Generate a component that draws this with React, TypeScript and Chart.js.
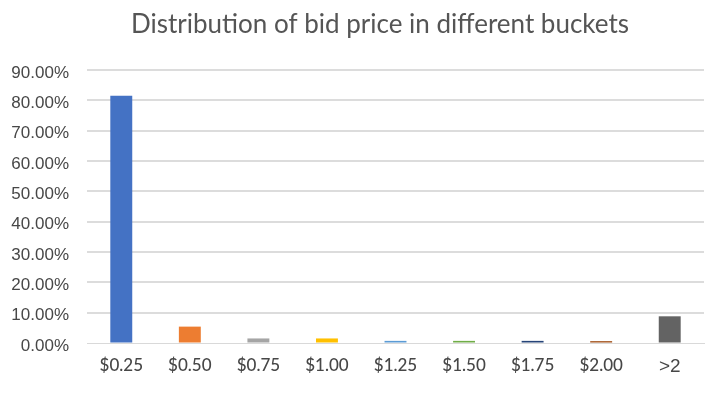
import React, { useEffect, useRef } from "react";
import { Chart, registerables } from "chart.js";

Chart.register(...registerables);

const categories = ["$0.25", "$0.50", "$0.75", "$1.00", "$1.25", "$1.50", "$1.75", "$2.00", ">2"];
const shares = [81.5, 5.4, 1.5, 1.5, 0.7, 0.7, 0.7, 0.6, 8.8];
const barColors = ["#4472C4", "#ED7D31", "#A5A5A5", "#FFC000", "#5B9BD5", "#70AD47", "#264478", "#9E480E", "#636363"];
const titleText = "Distribution of bid price in different buckets";

const titlePlugin = {
  id: "customTitle",
  afterDraw(chart: any) {
    const ctx = chart.ctx;
    ctx.save();
    ctx.font = "26px Lato";
    ctx.fillStyle = "#555555";
    ctx.textAlign = "center";
    ctx.textBaseline = "alphabetic";
    ctx.fillText(titleText, 380, 33);
    ctx.restore();
  },
};

export default function App() {
  const ref = useRef<HTMLCanvasElement>(null);
  useEffect(() => {
    document.body.style.margin = "0";
    const chart = new Chart(ref.current!, {
      type: "bar",
      data: {
        labels: categories,
        datasets: [
          {
            data: shares,
            backgroundColor: barColors,
            borderWidth: 0,
            categoryPercentage: 1,
            barPercentage: 0.32,
          },
        ],
      },
      options: {
        animation: false,
        responsive: false,
        layout: { padding: { top: 70, right: 12, left: 0, bottom: 0 } },
        plugins: { legend: { display: false }, title: { display: false }, tooltip: { enabled: false } },
        scales: {
          x: {
            grid: { display: false, drawTicks: false },
            border: { color: "#d9d9d9", width: 1 },
            ticks: {
              color: "#474747",
              padding: 12,
              font: (c: any) =>
                c.index === 8 ? { family: "Liberation Sans", size: 19 } : { family: "Lato", size: 17, weight: "500" },
            },
            afterFit: (s: any) => {
              s.height = 51;
            },
          },
          y: {
            min: 0,
            max: 90,
            grid: {
              color: "#dcdcdc",
              lineWidth: (c: any) => (c.tick && c.tick.value === 0 ? 1 : 2),
              drawTicks: false,
            },
            border: { display: false },
            ticks: {
              stepSize: 10,
              color: "#474747",
              padding: 18,
              labelOffset: 3,
              font: { family: "Liberation Sans", size: 17 },
              callback: (v: any) => Number(v).toFixed(2) + "%",
            },
            afterFit: (s: any) => {
              s.width = 87;
            },
          },
        },
      },
      plugins: [titlePlugin],
    });
    return () => chart.destroy();
  }, []);
  return (
    <div style={{ position: "absolute", left: 0, top: 0, width: 716, height: 394 }}>
      <canvas ref={ref} width={716} height={394} />
    </div>
  );
}
